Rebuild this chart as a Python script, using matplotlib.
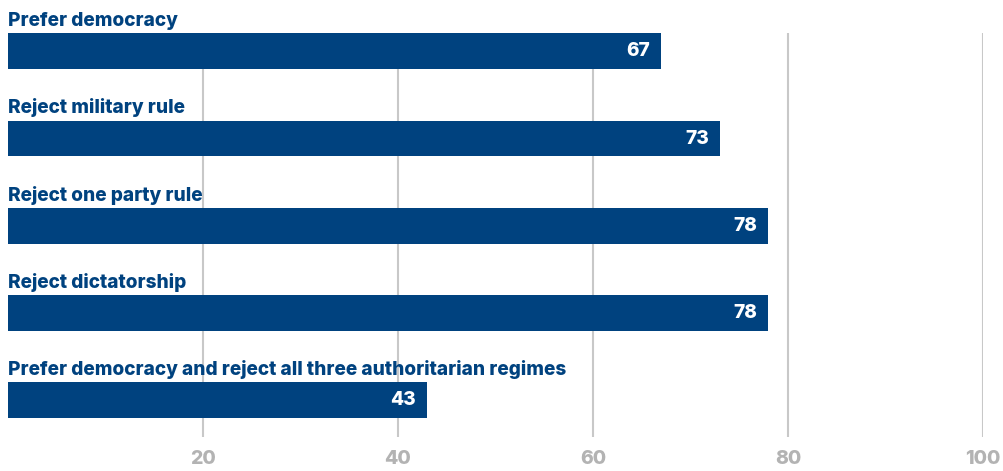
import matplotlib.pyplot as plt

categories = ["Prefer democracy", "Reject military rule", "Reject one party rule",
              "Reject dictatorship",
              "Prefer democracy and reject all three authoritarian regimes"]
values = [67, 73, 78, 78, 43]
ticks = [20, 40, 60, 80, 100]

blue = "#00427f"
plt.rcParams['font.family'] = ['Inter', 'DejaVu Sans']

fig = plt.figure(figsize=(10.04, 4.71), dpi=100)
ax = fig.add_axes([8 / 1004, (471 - 437) / 471, 975 / 1004, 404 / 471])

pos = list(range(len(categories)))
bar_h = 0.41
ax.barh(pos, values, height=bar_h, color=blue, zorder=2)

for i, (name, v) in enumerate(zip(categories, values)):
    ax.text(0, i - bar_h / 2 - 0.085, name, color=blue, fontsize=13.7,
            fontweight="heavy", ha="left", va="baseline", clip_on=False)
    ax.annotate(str(v), (v, i), xytext=(-8, 0), textcoords="offset points",
                color="white", fontsize=13.7, fontweight="heavy",
                ha="right", va="center", zorder=3)

ax.set_xlim(0, 100)
ax.set_ylim(4.42, -0.21)
ax.set_xticks(ticks)
ax.set_xticklabels([str(t) for t in ticks], color="#b3b3b3", fontsize=14,
                   fontweight="heavy")
ax.set_yticks([])
ax.tick_params(axis="x", length=0, pad=9)
ax.grid(axis="x", color="#c8c8c8", linewidth=1.5, zorder=1)
ax.set_axisbelow(True)
for s in ax.spines.values():
    s.set_visible(False)

fig.savefig("out.png", dpi=100)
